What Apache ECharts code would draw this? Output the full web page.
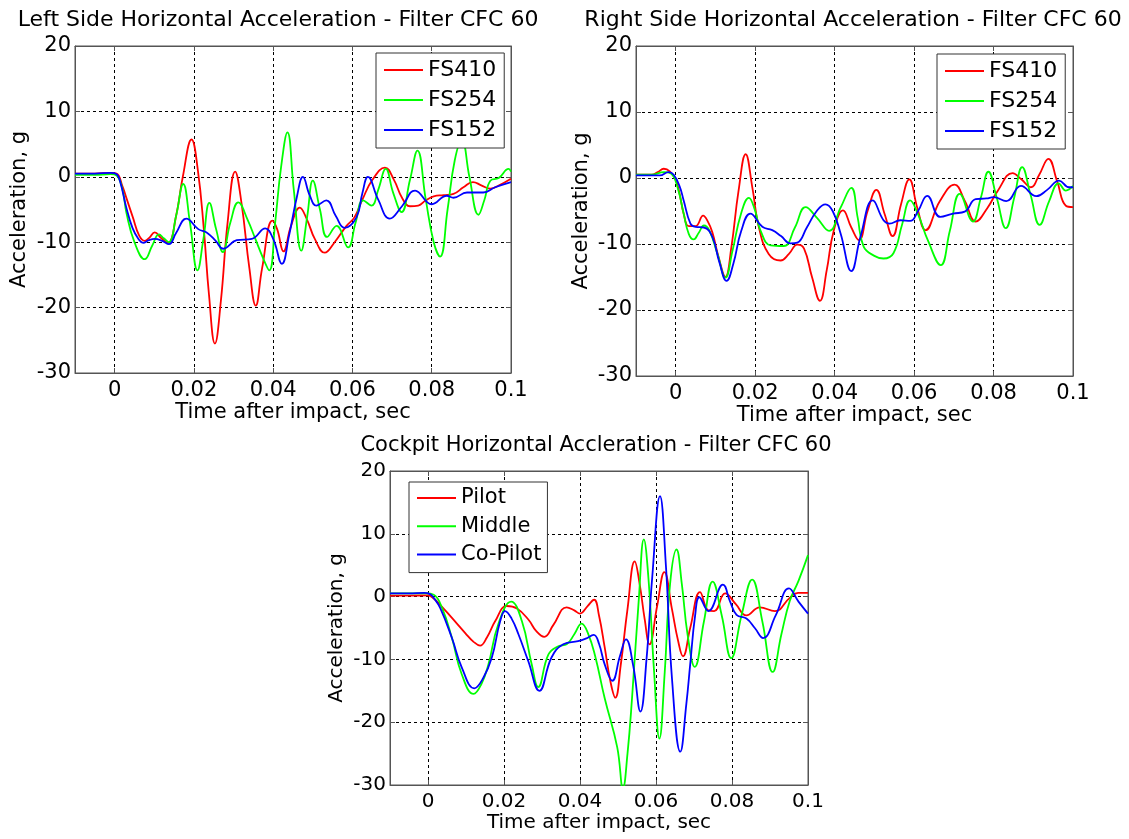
<!DOCTYPE html>
<html><head><meta charset="utf-8">
<script src="https://cdn.jsdelivr.net/npm/echarts@6/dist/echarts.min.js"></script>
<style>html,body{margin:0;padding:0;background:#fff}#c{width:1129px;height:839px}</style>
</head><body><div id="c"></div>
<script>
// ---- data: [time (ms), acceleration (g)] ----
const titles = [
  'Left Side Horizontal Acceleration - Filter CFC 60',
  'Right Side Horizontal Acceleration - Filter CFC 60',
  'Cockpit Horizontal Accleration - Filter CFC 60'
];
const sideNames = ['FS410', 'FS254', 'FS152'];
const cockpitNames = ['Pilot', 'Middle', 'Co-Pilot'];
const xLabel = 'Time after impact, sec';
const yLabel = 'Acceleration, g';
const xMin = -0.01, xMax = 0.1;
const yMin = -30, yMax = 20, yStep = 10;

const leftFS410 = [[-10,0.5],[-5,0.5],[-1,0.6],[0.5,0.5],[2,-1.5],[3,-3.3],[4.6,-6.2],[6.2,-9],[7.6,-9.8],[8.8,-9.3],[10.1,-8.5],[11.8,-9.4],[13.5,-10.1],[15.5,-6],[17.2,0],[19.4,5.7],[21,1],[22.5,-8],[23.8,-18],[25.3,-25.5],[26.8,-19],[28.5,-7],[30.4,0.8],[32,-4],[34,-14],[35.6,-19.7],[37.2,-14],[39.8,-6.7],[41,-8],[42.6,-11.4],[44.5,-7.5],[46.7,-4.7],[48.5,-6.5],[50.5,-9.5],[53,-11.6],[55.5,-10],[58.5,-7.5],[60.5,-6.2],[62.5,-3.5],[65,-0.5],[68.2,1.4],[70.5,-0.5],[72.5,-3.2],[74.5,-4.5],[76.6,-4.4],[78.5,-3.6],[80.5,-3.0],[83,-2.8],[85.5,-2.6],[88,-1.6],[90.4,-0.8],[92.5,-1.3],[94.8,-1.8],[97,-1.3],[100,-0.3]];
const leftFS254 = [[-10,0.3],[-5,0.3],[-1,0.4],[0.5,0.2],[2,-2],[3,-5.6],[5,-10],[7.6,-12.6],[9.5,-10.5],[11.2,-8.8],[12.4,-9.4],[13.7,-10],[15.5,-6],[17.3,-1.1],[19,-7],[20.9,-14.3],[22.4,-9.5],[23.9,-4.0],[25.6,-8],[27.3,-11.5],[29.2,-7],[31.2,-3.9],[33.5,-6.5],[35.5,-9.5],[37.5,-12.5],[39,-14.3],[40.5,-7],[42,1.5],[43.6,6.8],[45.2,-2],[47.1,-11.3],[48.6,-6],[50,-0.6],[51.8,-5],[53.6,-9.2],[56,-7.5],[58.9,-10.8],[60.8,-7],[62.7,-3.6],[64.8,-4.4],[66.5,-2],[68.4,1.2],[70.3,-2.5],[72.4,-5.4],[74.5,-0.5],[76.4,4.0],[78.5,-3.5],[80.5,-10],[82.1,-12.2],[84,-5],[85.8,2.5],[87.6,5.6],[89.5,0],[91.8,-5.8],[93.3,-3.5],[94.8,-0.6],[96.9,-0.2],[99.4,1.2],[100,0.8]];
const leftFS152 = [[-10,0.5],[-5,0.5],[-1,0.6],[0.5,0.4],[1.5,-1],[2.9,-4.6],[4.5,-7.8],[6,-9.5],[7.2,-10.1],[8.6,-9.7],[10.1,-9.5],[12,-9.8],[13.7,-10.3],[15.5,-8.6],[18.1,-6.4],[21.1,-8],[23.2,-8.5],[25.5,-9.8],[27.4,-11],[30.8,-9.7],[34.6,-9.5],[38,-7.9],[40,-9.5],[42.2,-13.3],[44,-9],[46,-3],[47.5,0],[49.2,-2.8],[50.9,-4.4],[53.4,-3.6],[55.8,-6],[58,-7.8],[61,-6.2],[62.5,-2.5],[63.9,0],[66.5,-3.5],[69.4,-6.4],[72.5,-4.5],[75.8,-2.1],[80,-4.2],[83.8,-2.9],[85.5,-3.2],[88.9,-2.4],[93,-2.4],[96,-1.6],[100,-0.8]];

const rightFS410 = [[-10,0.5],[-6,0.5],[-4.5,0.9],[-3,1.4],[-1.5,1.0],[0,-0.3],[1,-2.5],[2,-5.4],[3.3,-7.3],[5,-7.3],[6.9,-5.7],[8,-6.5],[9.2,-8.2],[10.8,-12],[12.5,-15],[14,-10.5],[15.8,-2],[17.6,3.6],[19.3,-1.5],[20.9,-7.4],[23.4,-11.5],[26.4,-12.5],[28.5,-11.5],[30.6,-10.1],[32.3,-10.7],[34.3,-15],[36.3,-18.6],[38,-14],[39.8,-7.9],[42.1,-4.9],[44.2,-7.5],[46.1,-9.4],[48.3,-5],[50.5,-1.8],[52.6,-5.5],[54.6,-8.8],[56.7,-4],[58.8,-0.2],[60.8,-4.5],[62.9,-7.9],[66.5,-3.5],[70.2,-1.0],[72.8,-3.5],[75.5,-6.6],[78.5,-4.5],[81,-2],[84.8,0.75],[87,-0.2],[89.4,-1.4],[91.5,0.5],[93.8,2.9],[96,-0.5],[98.2,-4.2],[100,-4.4]];
const rightFS254 = [[-10,0.5],[-6,0.5],[-3,0.9],[-1.2,0.7],[0.5,-1.5],[2,-5.4],[3.3,-8.5],[4.5,-9.3],[5.8,-8.3],[7.1,-7.2],[8.5,-8],[10.5,-11.5],[12.5,-15.1],[14.3,-11],[16.4,-5.5],[18.4,-3.0],[20,-5],[21.3,-7.9],[23.9,-10.2],[27.2,-10.3],[30,-7.5],[32.7,-4.4],[35.5,-6],[38.6,-8.0],[41.5,-4.5],[44.2,-1.5],[45.8,-6],[47.3,-10.4],[50,-11.8],[52.3,-12.2],[54.8,-11.4],[57,-7],[59,-3.4],[61,-5.5],[63.5,-9.5],[66.7,-13.2],[69,-8],[71.5,-2.4],[74.8,-6.6],[76.8,-3],[78.7,0.95],[80.8,-3],[83.1,-7.6],[85.2,-3],[87.2,1.65],[89.3,-2.5],[91.6,-7.1],[94,-3.5],[96.4,-0.8],[98.2,-1.9],[100,-1.2]];
const rightFS152 = [[-10,0.4],[-6,0.4],[-4,0.4],[-1.8,0.9],[-0.5,0.5],[1,-1.3],[2,-3.4],[3.7,-6.9],[5,-7.4],[7.1,-7.5],[9.2,-8.9],[11,-12.8],[12.8,-15.6],[14.5,-13],[16.5,-8],[18.8,-5.4],[21.8,-7.4],[24.3,-7.9],[26.5,-8.8],[28.9,-9.9],[30.6,-9.8],[33,-7.5],[35.5,-5],[37.7,-4.0],[39.5,-5],[41.5,-8.4],[44.2,-14.1],[46.5,-8.9],[49.6,-3.4],[52.3,-6.4],[53.8,-6.9],[56.5,-6.4],[59,-6.5],[61,-5],[63.3,-2.7],[66.6,-5.9],[69.8,-5.4],[72.75,-5.1],[75.5,-3.2],[78.2,-3.1],[80,-2.9],[83.2,-3.5],[86.9,-1.2],[90.8,-2.75],[93.5,-1.8],[96.5,-0.4],[99,-1.4],[100,-1.4]];

const cockpitPilot = [[-10,0.15],[-5,0.15],[0,0.2],[1.5,-0.3],[3.2,-1.3],[6.3,-3.4],[9.8,-5.8],[12,-7.2],[13.7,-7.8],[15.5,-6.5],[17.7,-3.9],[20.7,-1.5],[23.4,-1.9],[26.4,-3.65],[28.5,-5.5],[30.6,-6.4],[33,-4.5],[36.5,-1.7],[38.5,-2.2],[40,-2.7],[42,-1.5],[43.7,-0.5],[45,-3],[46.5,-8.1],[48,-13.5],[49.3,-16.1],[50.7,-11],[52.5,-2],[54.4,5.6],[55.7,2],[57,-3.5],[58.3,-7.6],[60.3,-1.5],[62.2,3.9],[64.2,-2],[65.8,-7],[67.1,-9.5],[69,-5],[71.6,0.7],[73.8,-2.2],[75.3,-2.3],[78.2,0.5],[81,-1.2],[83.8,-3.0],[87.3,-1.7],[91.3,-2.3],[95.2,-0.2],[97.4,0.6],[100,0.6]];
const cockpitMiddle = [[-10,0.5],[-5,0.5],[-0.5,0.5],[1.5,0.3],[3.7,-1.8],[6.3,-6.6],[8.9,-12.4],[12,-15.5],[14,-14],[15.9,-10.8],[18.5,-4.4],[21.9,-0.8],[24.7,-3.9],[27.3,-10.8],[29.0,-14.4],[31.7,-9.2],[34.3,-7.9],[36.5,-7.6],[38.5,-6],[40.4,-4.3],[42.2,-6],[44,-9.5],[46.5,-16.2],[49.8,-24],[51.3,-30.5],[52.5,-25],[53.7,-16.1],[55.5,-0.2],[56.8,9.1],[58,3],[59.5,-12],[60.9,-22.6],[62.3,-12],[63.7,2],[65.4,7.5],[66.8,2],[68.3,-6],[70.2,-11.2],[72.6,-4],[74.9,2.4],[77.3,-3],[79.8,-9.8],[82.5,-3],[85.3,2.7],[88,-4],[90.7,-12.0],[93,-6],[95.2,-0.7],[97.5,2.5],[100,6.6]];
const cockpitCoPilot = [[-10,0.5],[-5,0.5],[-1,0.6],[0.5,0.4],[1.5,-0.2],[3.2,-1.8],[6.3,-6.6],[8.9,-11.3],[12.2,-14.6],[14.5,-13],[16.8,-9.7],[19,-3.9],[20.3,-2.3],[22,-3.5],[23.8,-6.0],[26.4,-10.3],[29.3,-15.0],[32.5,-9.7],[35.6,-7.6],[39.5,-7.1],[41.5,-6.7],[43.6,-6.1],[45,-7.5],[46.5,-10.8],[48.5,-13.4],[50.5,-9.5],[52.1,-6.8],[54,-11],[55.9,-18.3],[57.5,-10],[59,3],[61.05,16.0],[62.6,5],[64.2,-13],[66.4,-24.7],[68,-17],[69,-10.8],[70.3,-3],[71.4,-0.1],[73.8,-2.3],[77.6,1.9],[79.5,-0.8],[81.2,-2.9],[83.8,-3.5],[86,-5],[88.2,-6.6],[91.5,-3],[95,1.3],[97.5,-0.8],[100,-2.7]];

const colors = ['#ff0000', '#00ff00', '#0000ff'];

// ---- layout ----
const FONT = 'DejaVu Sans, Verdana, sans-serif';
const panels = [
  { grid: {left: 75, top: 46, width: 436, height: 327}, names: sideNames, series: [leftFS410, leftFS254, leftFS152],
    title: {x: 278, y: 20, size: 22}, tick: 21, axisName: 21, xGap: 28,
    legend: {left: 376, top: 53, gap: 8, lh: 22, size: 22, pad: [6, 8, 7, 8]}, yGap: 45 },
  { grid: {left: 636, top: 46, width: 437, height: 330}, names: sideNames, series: [rightFS410, rightFS254, rightFS152],
    title: {x: 853, y: 20, size: 22}, tick: 21, axisName: 21, xGap: 28,
    legend: {left: 937, top: 54, gap: 8, lh: 22, size: 22, pad: [6, 8, 7, 8]}, yGap: 44 },
  { grid: {left: 390, top: 471, width: 418, height: 314}, names: cockpitNames, series: [cockpitPilot, cockpitMiddle, cockpitCoPilot],
    title: {x: 596, y: 446, size: 21}, tick: 20, axisName: 20, xGap: 28,
    legend: {left: 409, top: 482, gap: 7.3, lh: 21, size: 21, pad: [5.5, 6, 7.5, 8]}, yGap: 43 }
];

const grid = [], xAxis = [], yAxis = [], series = [], legend = [], graphic = [];
const axisColor = '#555';
panels.forEach((p, i) => {
  grid.push(Object.assign({show: true, borderColor: axisColor, borderWidth: 1, backgroundColor: '#fff'}, p.grid));
  xAxis.push({
    type: 'value', gridIndex: i, min: xMin, max: xMax, splitNumber: 5,
    name: xLabel, nameLocation: 'middle', nameGap: p.xGap,
    nameTextStyle: {fontSize: p.axisName, fontFamily: FONT, color: '#000'},
    axisLine: {show: true, onZero: false, lineStyle: {color: axisColor}},
    axisTick: {show: true, inside: true, length: 5, lineStyle: {color: axisColor}},
    axisLabel: {fontSize: p.tick, fontFamily: FONT, color: '#000', margin: 7, showMinLabel: false,
      formatter: v => (v < -1e-9 ? '' : String(Math.round(v * 1000) / 1000))},
    splitLine: {show: true, lineStyle: {color: '#000', type: [3, 3], width: 1}}
  });
  xAxis.push({
    type: 'value', gridIndex: i, min: xMin, max: xMax, splitNumber: 5, position: 'top',
    axisLine: {show: true, onZero: false, lineStyle: {color: axisColor}},
    axisTick: {show: true, inside: true, length: 5, lineStyle: {color: axisColor}},
    axisLabel: {show: false}, splitLine: {show: false}
  });
  yAxis.push({
    type: 'value', gridIndex: i, min: yMin, max: yMax, interval: yStep,
    name: yLabel, nameLocation: 'middle', nameGap: p.yGap,
    nameTextStyle: {fontSize: p.axisName, fontFamily: FONT, color: '#000'},
    axisLine: {show: true, onZero: false, lineStyle: {color: axisColor}},
    axisTick: {show: true, inside: true, length: 5, lineStyle: {color: axisColor}},
    axisLabel: {fontSize: p.tick, fontFamily: FONT, color: '#000', margin: 4},
    splitLine: {show: true, lineStyle: {color: '#000', type: [3, 3], width: 1}}
  });
  yAxis.push({
    type: 'value', gridIndex: i, min: yMin, max: yMax, interval: yStep, position: 'right',
    axisLine: {show: true, onZero: false, lineStyle: {color: axisColor}},
    axisTick: {show: true, inside: true, length: 5, lineStyle: {color: axisColor}},
    axisLabel: {show: false}, splitLine: {show: false}
  });
  p.series.forEach((d, k) => {
    series.push({
      type: 'line', name: p.names[k], xAxisIndex: 2 * i, yAxisIndex: 2 * i,
      data: d.map(q => [q[0] / 1000, q[1]]),
      smooth: 0.45, symbol: 'none', clip: true,
      lineStyle: {color: colors[k], width: 1.8}, itemStyle: {color: colors[k]}
    });
  });
  legend.push({
    orient: 'vertical', left: p.legend.left, top: p.legend.top, data: p.names,
    icon: 'rect', itemWidth: 39, itemHeight: 2, itemGap: p.legend.gap, padding: p.legend.pad,
    backgroundColor: '#fff', borderColor: '#333', borderWidth: 1, selectedMode: false,
    textStyle: {fontSize: p.legend.size, fontFamily: FONT, color: '#000', lineHeight: p.legend.lh}
  });
  graphic.push({
    type: 'text', x: p.title.x, y: p.title.y, z: 10,
    style: {text: titles[i], fontSize: p.title.size, fontFamily: FONT, fill: '#000',
      align: 'center', verticalAlign: 'middle', textAlign: 'center', textVerticalAlign: 'middle'}
  });
});

const chart = echarts.init(document.getElementById('c'), null, {renderer: 'canvas'});
chart.setOption({
  backgroundColor: '#fff', animation: false,
  grid, xAxis, yAxis, series, legend, graphic
});
</script></body></html>
